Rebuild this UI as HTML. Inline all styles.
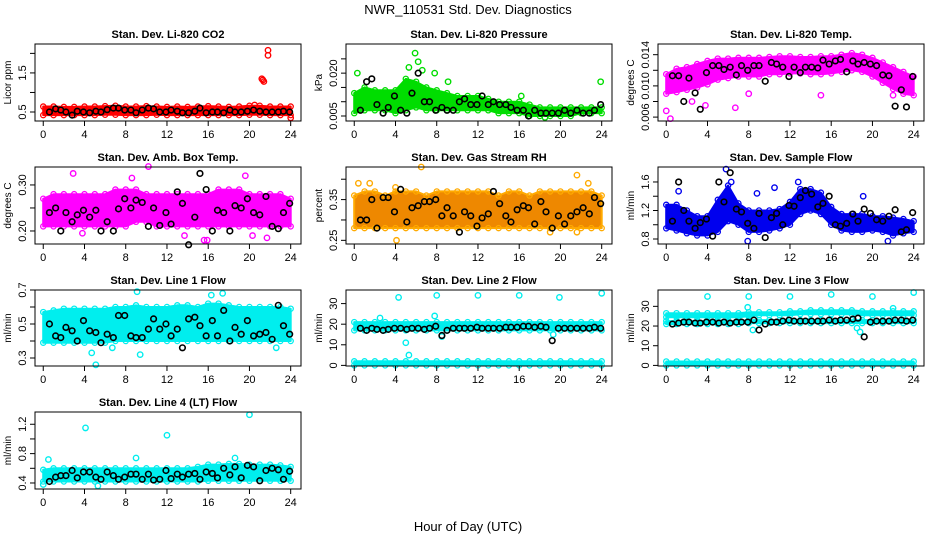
<!DOCTYPE html>
<html><head><meta charset="utf-8"><style>
html,body{margin:0;padding:0;background:#fff;}
svg{display:block;font-family:"Liberation Sans",sans-serif;}
</style></head><body>
<svg id="c" width="936" height="540" viewBox="0 0 936 540">
<text x="468" y="14" text-anchor="middle" font-size="13">NWR_110531  Std. Dev. Diagnostics</text>
<text x="468" y="531" text-anchor="middle" font-size="13">Hour of Day (UTC)</text>
</svg>
<script>
// shared data
const hours=[0,1,2,3,4,5,6,7,8,9,10,11,12,13,14,15,16,17,18,19,20,21,22,23,24];
const xTicks=[0,4,8,12,16,20,24];
const blackX=[0.6,1.2,1.7,2.2,2.8,3.3,3.9,4.5,5.1,5.6,6.2,6.8,7.3,7.9,8.5,9.0,9.6,10.2,10.7,11.3,11.9,12.4,13.0,13.5,14.1,14.7,15.2,15.8,16.4,16.9,17.5,18.1,18.6,19.2,19.8,20.4,21.0,21.6,22.2,22.8,23.3,23.9];

// panel 1 CO2
const co2Lo=[0.42,0.42,0.42,0.42,0.42,0.42,0.43,0.43,0.42,0.42,0.42,0.43,0.42,0.42,0.42,0.42,0.42,0.42,0.42,0.42,0.43,0.43,0.42,0.42,0.42];
const co2Hi=[0.64,0.64,0.63,0.63,0.64,0.64,0.65,0.66,0.64,0.64,0.65,0.64,0.63,0.64,0.63,0.64,0.65,0.64,0.63,0.64,0.66,0.66,0.64,0.64,0.64];
const co2OutX=[21.3,21.4,21.2,21.8,21.8,24.0,20.5];
const co2OutY=[1.32,1.28,1.35,2.08,1.95,0.35,0.68];
const co2Black=[0.5,0.58,0.55,0.5,0.42,0.52,0.5,0.48,0.52,0.5,0.56,0.6,0.6,0.55,0.55,0.48,0.55,0.6,0.58,0.5,0.5,0.55,0.52,0.48,0.48,0.52,0.6,0.48,0.5,0.5,0.48,0.55,0.5,0.5,0.52,0.55,0.52,0.5,0.5,0.5,0.52,0.5];
// panel 2 pressure
const prLo=[0.006,0.007,0.007,0.007,0.006,0.007,0.008,0.007,0.007,0.007,0.007,0.007,0.007,0.007,0.006,0.006,0.006,0.005,0.005,0.005,0.005,0.005,0.006,0.006,0.006];
const prHi=[0.013,0.015,0.014,0.014,0.014,0.018,0.017,0.015,0.014,0.013,0.012,0.012,0.012,0.011,0.010,0.010,0.010,0.009,0.008,0.008,0.008,0.008,0.008,0.008,0.008];
const prOutX=[5.9,6.2,5.3,0.3,7.8,9.1,23.9,6.6,18.5,16.2];
const prOutY=[0.027,0.024,0.022,0.020,0.020,0.017,0.017,0.021,0.0045,0.012];
const prBlack=[0.007,0.017,0.018,0.009,0.006,0.008,0.012,0.007,0.006,0.013,0.020,0.010,0.010,0.007,0.008,0.007,0.007,0.010,0.011,0.009,0.009,0.012,0.009,0.010,0.009,0.009,0.008,0.007,0.007,0.005,0.007,0.006,0.006,0.006,0.006,0.007,0.006,0.007,0.006,0.006,0.007,0.009];
// panel 3 temp
const tpLo=[0.0090,0.0092,0.0095,0.0098,0.0102,0.0108,0.0110,0.0112,0.0112,0.0112,0.0115,0.0115,0.0116,0.0116,0.0115,0.0115,0.0116,0.0118,0.0120,0.0118,0.0112,0.0104,0.0096,0.0090,0.0088];
const tpHi=[0.0115,0.0122,0.0124,0.0128,0.0132,0.0135,0.0135,0.0136,0.0136,0.0136,0.0137,0.0138,0.0138,0.0137,0.0137,0.0138,0.0138,0.0140,0.0142,0.0140,0.0136,0.0130,0.0124,0.0118,0.0112];
const tpOutX=[0.4,0.0,6.7,3.8,2.5,8.0,15.0,22.0];
const tpOutY=[0.0058,0.0068,0.0072,0.0075,0.0080,0.0090,0.0088,0.0088];
const tpBlack=[0.0113,0.0113,0.0080,0.0110,0.0091,0.0070,0.0117,0.0126,0.0126,0.0121,0.0124,0.0114,0.0126,0.0120,0.0126,0.0126,0.0106,0.0130,0.0128,0.0124,0.0112,0.0124,0.0117,0.0124,0.0124,0.0123,0.0133,0.0128,0.0132,0.0134,0.0118,0.0132,0.0128,0.0130,0.0128,0.0126,0.0114,0.0113,0.0074,0.0095,0.0073,0.0112];
// panel 4 ambient box temp
const abLo=[0.21,0.21,0.21,0.21,0.21,0.21,0.21,0.21,0.21,0.22,0.22,0.21,0.21,0.21,0.21,0.21,0.21,0.21,0.21,0.21,0.21,0.21,0.21,0.21,0.21];
const abHi=[0.27,0.28,0.28,0.28,0.28,0.28,0.28,0.29,0.29,0.29,0.28,0.28,0.28,0.28,0.28,0.28,0.28,0.29,0.29,0.29,0.28,0.28,0.28,0.28,0.27];
const abOutX=[2.9,10.2,19.6,8.6,15.6,15.9,13.7,20.3,21.7,3.8];
const abOutY=[0.325,0.34,0.32,0.315,0.18,0.18,0.19,0.19,0.185,0.195];
const abBlack=[0.24,0.25,0.20,0.24,0.22,0.235,0.245,0.23,0.245,0.20,0.22,0.20,0.248,0.27,0.25,0.267,0.262,0.21,0.25,0.212,0.24,0.215,0.285,0.26,0.17,0.23,0.325,0.29,0.20,0.245,0.24,0.20,0.255,0.25,0.27,0.24,0.235,0.275,0.21,0.205,0.24,0.26];
// panel 5 RH
const rhLo=[0.28,0.28,0.28,0.28,0.28,0.28,0.28,0.28,0.28,0.28,0.28,0.28,0.28,0.28,0.28,0.28,0.28,0.28,0.28,0.28,0.28,0.28,0.28,0.28,0.28];
const rhHi=[0.36,0.37,0.37,0.36,0.37,0.37,0.37,0.36,0.37,0.37,0.37,0.37,0.37,0.37,0.36,0.37,0.37,0.36,0.37,0.37,0.37,0.37,0.37,0.37,0.36];
const rhOutX=[0.4,1.5,4.0,6.5,21.6,22.7,4.1,19.0,21.6];
const rhOutY=[0.39,0.39,0.38,0.43,0.41,0.39,0.25,0.27,0.27];
const rhBlack=[0.30,0.30,0.35,0.28,0.355,0.355,0.32,0.375,0.295,0.33,0.335,0.345,0.345,0.35,0.31,0.33,0.31,0.27,0.32,0.31,0.285,0.305,0.315,0.37,0.34,0.31,0.295,0.325,0.335,0.33,0.29,0.345,0.32,0.28,0.31,0.29,0.31,0.32,0.33,0.315,0.355,0.34];
// panel 6 sample flow
const sfLo=[0.95,0.92,0.88,0.85,0.85,0.9,1.05,1.0,0.9,0.9,0.92,0.95,1.0,1.15,1.2,1.15,1.0,0.92,0.9,0.9,0.92,0.9,0.85,0.88,0.9];
const sfHi=[1.28,1.28,1.2,1.12,1.12,1.35,1.55,1.3,1.2,1.2,1.2,1.22,1.32,1.5,1.5,1.45,1.25,1.15,1.15,1.15,1.12,1.12,1.1,1.08,1.05];
const sfOutX=[5.8,6.3,1.2,8.8,12.8,19.1,7.9,21.5,10.5];
const sfOutY=[1.78,1.6,1.47,1.44,1.6,1.4,0.77,0.77,1.52];
const sfBlack=[1.05,1.6,1.2,1.05,0.95,1.03,1.08,0.84,1.6,1.32,1.73,1.22,1.18,1.02,0.95,1.16,0.82,1.1,1.16,1.0,1.27,1.26,1.38,1.48,1.43,1.25,1.3,1.4,1.0,0.98,1.02,1.15,1.05,1.22,1.16,1.07,1.05,1.12,1.21,0.9,0.93,1.17];
// panel 7 line 1
const l1Lo=[0.39,0.39,0.39,0.39,0.39,0.39,0.39,0.40,0.40,0.40,0.40,0.40,0.40,0.40,0.40,0.40,0.40,0.40,0.40,0.40,0.40,0.40,0.40,0.40,0.40];
const l1Hi=[0.57,0.58,0.59,0.59,0.59,0.59,0.59,0.60,0.60,0.61,0.60,0.60,0.60,0.61,0.61,0.60,0.62,0.62,0.61,0.60,0.60,0.60,0.60,0.60,0.59];
const l1OutX=[9.1,17.4,16.3,5.1,4.7,9.4,22.6,6.7];
const l1OutY=[0.69,0.68,0.67,0.26,0.33,0.32,0.36,0.36];
const l1Black=[0.5,0.43,0.42,0.48,0.46,0.4,0.52,0.46,0.45,0.39,0.44,0.42,0.55,0.55,0.43,0.42,0.42,0.47,0.53,0.47,0.5,0.43,0.47,0.36,0.53,0.54,0.49,0.43,0.52,0.43,0.58,0.4,0.48,0.44,0.52,0.43,0.44,0.45,0.41,0.61,0.49,0.44];
// panel 8 line 2
const l2Lo=[17,17,17,17,17,17,17,17,17,17,17,17,17,17,17,17,17,17,17,17,17,17,17,17,17];
const l2Hi=[21,21,21,21,21,21,21,21,21,21,21,21,21,21,21,21,21,21,21,21,21,21,21,21,21];
const l2ZeroLo=[0,0,0,0,0,0,0,0,0,0,0,0,0,0,0,0,0,0,0,0,0,0,0,0,0];
const l2ZeroHi=[2,2,2,2,2,2,2,2,2,2,2,2,2,2,2,2,2,2,2,2,2,2,2,2,2];
const l2OutX=[4.3,8.0,12.0,16.0,19.9,24.0,5.0,5.3,2.5,7.8,19.3,8.5];
const l2OutY=[33,34,34,34,33,35,11,5,23,24,15,14];
const l2Black=[18,17,18,17.5,17,17.5,18,18,17.5,18,18,17.5,18,19,14.5,17,18,18,18,18,18.5,18,18,18,18,18.5,18.5,18.5,19,19,18.5,19,18.5,12,18,18,18,18,18,18,18.5,18];
// panel 9 line 3
const l3Lo=[24.5,24.5,24.5,24.5,24.5,24.5,24.5,24.5,25,25.5,25.5,25.5,25.5,26,26,26,26,26,26,25.5,25.5,25.5,25.5,25.5,25.5];
const l3Hi=[26.5,26.5,26.5,26.5,26.5,26.5,26.5,26.5,27,27,27,27,27.5,27.5,28,28,28,28,28,27.5,27.5,27.5,27.5,27.5,27.5];
const l3MidLo=[21,21,21,21,21,21,21,21,21.5,21.5,21.5,21.5,21.5,21.5,21.5,21.5,21.5,21.5,21.5,21.5,21.5,21.5,21.5,21.5,21.5];
const l3MidHi=[22.5,22.5,22.5,22.5,22.5,22.5,22.5,22.5,23,23,23,23,23,23,23,23,23,23,23,23,23,23,23,23,23];
const l3ZeroLo=[0,0,0,0,0,0,0,0,0,0,0,0,0,0,0,0,0,0,0,0,0,0,0,0,0];
const l3ZeroHi=[2,2,2,2,2,2,2,2,2,2,2,2,2,2,2,2,2,2,2,2,2,2,2,2,2];
const l3OutX=[4,8,12,16,20,24,7.9,8.4,18.5,18.8,22.0];
const l3OutY=[35,35,35,36,35,37,29.5,18,19,17,29];
const l3Black=[21,21.5,22,22,21.5,21.5,22,22,21.5,22,21.5,22,22,22,23,18,21,22,22,22.5,23,22.5,22.5,22.5,22.5,22.5,22.5,23,22.5,23,23,23.5,24,14.5,22,22.5,22.5,22.5,23,23,22.5,23];
// panel 10 line 4
const l4Lo=[0.42,0.42,0.42,0.42,0.42,0.42,0.42,0.42,0.42,0.42,0.42,0.42,0.42,0.42,0.42,0.42,0.43,0.43,0.43,0.43,0.43,0.43,0.43,0.43,0.43];
const l4Hi=[0.58,0.60,0.60,0.60,0.60,0.60,0.60,0.60,0.60,0.60,0.60,0.60,0.60,0.60,0.60,0.62,0.65,0.65,0.66,0.66,0.65,0.65,0.65,0.64,0.62];
const l4OutX=[4.1,12.0,20.0,0.5,9.0,18.6,5.3,0];
const l4OutY=[1.15,1.05,1.33,0.72,0.74,0.74,0.36,0.38];
const l4Black=[0.42,0.48,0.5,0.5,0.57,0.47,0.55,0.55,0.48,0.45,0.55,0.5,0.45,0.48,0.52,0.52,0.45,0.52,0.44,0.45,0.57,0.46,0.52,0.48,0.52,0.53,0.45,0.55,0.53,0.47,0.6,0.51,0.62,0.47,0.64,0.62,0.43,0.57,0.6,0.58,0.45,0.56];

const NS='http://www.w3.org/2000/svg';
const svg=document.getElementById('c');
function mk(tag,attrs,parent){const e=document.createElementNS(NS,tag);for(const k in attrs)e.setAttribute(k,attrs[k]);(parent||svg).appendChild(e);return e;}

const COLS=[[35,301],[346,612],[658,924]];
const ROWS=[[44,121],[167,244],[290,366],[412,489]];

function panel(o){
  const [L,R]=COLS[o.col],[T,B]=ROWS[o.row];
  const g=mk('g',{});
  
  
  const xs=v=>L+(v+0.8)/25.8*(R-L);
  const ys=v=>B-(v-o.y0)/(o.y1-o.y0)*(B-T);
  const t=mk('text',{x:(L+R)/2,y:T-6,'text-anchor':'middle','font-size':'11','font-weight':'bold'},g);
  t.textContent=o.title;
  
  
  (o.bands||[]).forEach(b=>{
    let d='';
    hours.forEach((h,i)=>{d+=(i?'L':'M')+xs(h).toFixed(1)+','+ys(b.hi[i]).toFixed(1);});
    for(let i=hours.length-1;i>=0;i--)d+='L'+xs(hours[i]).toFixed(1)+','+ys(b.lo[i]).toFixed(1);
    const p=mk('path',{d:d+'Z',fill:o.fill||o.color,stroke:o.color,'stroke-width':'2','stroke-linejoin':'round'},g);
    
    
    hours.forEach((h,i)=>{
      [b.lo[i],b.hi[i]].forEach(v=>{
        const c=mk('circle',{cx:xs(h),cy:ys(v),r:2.6,fill:'none',stroke:o.color,'stroke-width':'1.3'},g);
        
        
      });
    });
  });
  o.ox.forEach((x,i)=>{
    const c=mk('circle',{cx:xs(x),cy:ys(o.oy[i]),r:2.7,fill:'none',stroke:o.color,'stroke-width':'1.4'},g);
    
    
  });
  blackX.forEach((x,i)=>{
    const c=mk('circle',{cx:xs(x),cy:ys(o.black[i]),r:2.8,fill:'none',stroke:'#000','stroke-width':'1.6'},g);
    
    
  });
  const box=mk('rect',{x:L,y:T,width:R-L,height:B-T,fill:'none',stroke:'#000','stroke-width':'1'},g);
  
  
  mk('line',{x1:xs(0),x2:xs(24),y1:B,y2:B,stroke:'#000'},g);
  xTicks.forEach(v=>{
    mk('line',{x1:xs(v),x2:xs(v),y1:B,y2:B+5,stroke:'#000'},g);
    const tx=mk('text',{x:xs(v),y:B+17,'text-anchor':'middle','font-size':'11'},g);
    tx.textContent=v;
    
    
  });
  const yt=o.yt;
  mk('line',{x1:L,x2:L,y1:ys(yt[0]),y2:ys(yt[yt.length-1]),stroke:'#000'},g);
  yt.forEach((v,i)=>{
    const y=ys(v);
    mk('line',{x1:L-5,x2:L,y1:y,y2:y,stroke:'#000'},g);
    if(o.yl[i]){
      const tx=mk('text',{x:L-9,y:y,'text-anchor':'middle','font-size':'11',transform:`rotate(-90 ${L-9} ${y})`},g);
      tx.textContent=o.yl[i];
      
      
    }
  });
  const yc=(T+B)/2,yx=L-24;
  const ya=mk('text',{x:yx,y:yc,'text-anchor':'middle','font-size':'10',transform:`rotate(-90 ${yx} ${yc})`},g);
  ya.textContent=o.ytitle;
  
  
}

const MAG='#ff00ff',CY='#00eeee';
panel({name:'panel-co2',col:0,row:0,title:'Stan. Dev. Li-820 CO2',ytitle:'Licor ppm',color:'#ff0000',y0:0.27,y1:2.24,yt:[0.5,1.0,1.5,2.0],yl:['0.5','','1.5',''],bands:[{lo:co2Lo,hi:co2Hi}],ox:co2OutX,oy:co2OutY,black:co2Black});
panel({name:'panel-pressure',col:1,row:0,title:'Stan. Dev. Li-820 Pressure',ytitle:'kPa',color:'#00dd00',y0:0.00325,y1:0.0302,yt:[0.005,0.010,0.015,0.020,0.025],yl:['0.005','','','0.020',''],bands:[{lo:prLo,hi:prHi}],ox:prOutX,oy:prOutY,black:prBlack});
panel({name:'panel-temp',col:2,row:0,title:'Stan. Dev. Li-820 Temp.',ytitle:'degrees C',color:MAG,y0:0.0055,y1:0.01537,yt:[0.006,0.008,0.010,0.012,0.014],yl:['0.006','','0.010','','0.014'],bands:[{lo:tpLo,hi:tpHi}],ox:tpOutX,oy:tpOutY,black:tpBlack});
panel({name:'panel-ambient',col:0,row:1,title:'Stan. Dev. Amb. Box Temp.',ytitle:'degrees C',color:MAG,y0:0.1717,y1:0.339,yt:[0.20,0.25,0.30],yl:['0.20','','0.30'],bands:[{lo:abLo,hi:abHi}],ox:abOutX,oy:abOutY,black:abBlack});
panel({name:'panel-rh',col:1,row:1,title:'Stan. Dev. Gas Stream RH',ytitle:'percent',color:'#ffaa00',fill:'#ee8800',y0:0.241,y1:0.43,yt:[0.25,0.30,0.35,0.40],yl:['0.25','','0.35',''],bands:[{lo:rhLo,hi:rhHi}],ox:rhOutX,oy:rhOutY,black:rhBlack});
panel({name:'panel-sample-flow',col:2,row:1,title:'Stan. Dev. Sample Flow',ytitle:'ml/min',color:'#0000ee',y0:0.73,y1:1.81,yt:[0.8,1.0,1.2,1.4,1.6],yl:['0.8','','1.2','','1.6'],bands:[{lo:sfLo,hi:sfHi}],ox:sfOutX,oy:sfOutY,black:sfBlack});
panel({name:'panel-line1',col:0,row:2,title:'Stan. Dev. Line 1 Flow',ytitle:'ml/min',color:CY,y0:0.253,y1:0.7,yt:[0.3,0.4,0.5,0.6,0.7],yl:['0.3','','0.5','','0.7'],bands:[{lo:l1Lo,hi:l1Hi}],ox:l1OutX,oy:l1OutY,black:l1Black});
panel({name:'panel-line2',col:1,row:2,title:'Stan. Dev. Line 2 Flow',ytitle:'ml/min',color:CY,y0:-0.3,y1:36.6,yt:[0,10,20,30],yl:['0','10','20','30'],bands:[{lo:l2Lo,hi:l2Hi},{lo:l2ZeroLo,hi:l2ZeroHi}],ox:l2OutX,oy:l2OutY,black:l2Black});
panel({name:'panel-line3',col:2,row:2,title:'Stan. Dev. Line 3 Flow',ytitle:'ml/min',color:CY,y0:-0.3,y1:38.3,yt:[0,10,20,30],yl:['0','10','20','30'],bands:[{lo:l3Lo,hi:l3Hi},{lo:l3MidLo,hi:l3MidHi},{lo:l3ZeroLo,hi:l3ZeroHi}],ox:l3OutX,oy:l3OutY,black:l3Black});
panel({name:'panel-line4',col:0,row:3,title:'Stan. Dev. Line 4 (LT) Flow',ytitle:'ml/min',color:CY,y0:0.318,y1:1.367,yt:[0.4,0.6,0.8,1.0,1.2],yl:['0.4','','0.8','','1.2'],bands:[{lo:l4Lo,hi:l4Hi}],ox:l4OutX,oy:l4OutY,black:l4Black});
</script>
</body></html>
